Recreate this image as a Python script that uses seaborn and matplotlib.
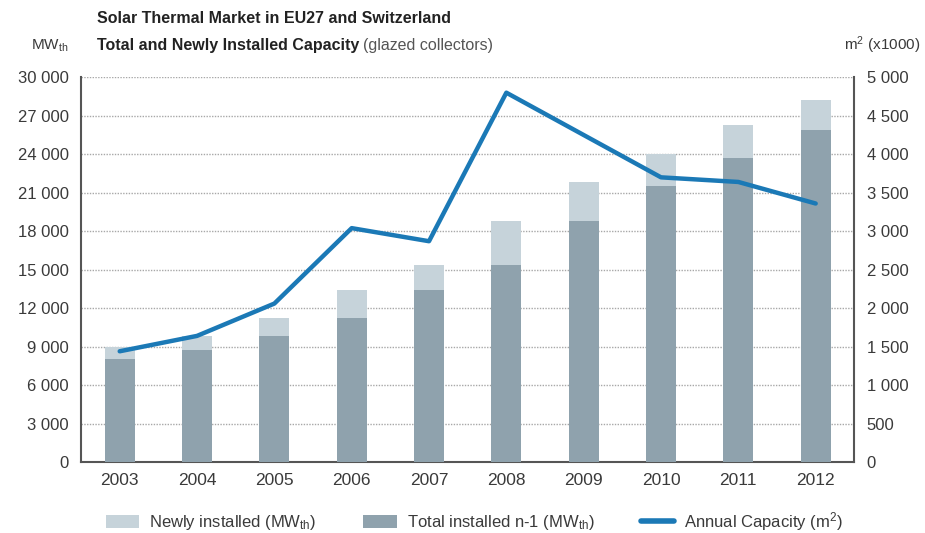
import pandas as pd
import seaborn as sns
import matplotlib.pyplot as plt
import numpy as np
from matplotlib.patches import Patch
from matplotlib.lines import Line2D
from matplotlib.ticker import FuncFormatter

# Data
years = ['2003', '2004', '2005', '2006', '2007', '2008', '2009', '2010', '2011', '2012']
total_prev = [8000, 8750, 9800, 11200, 13400, 15400, 18800, 21500, 23700, 25900]   # MWth, total installed n-1
total_now = [9000, 9800, 11200, 13400, 15400, 18800, 21800, 24000, 26300, 28200]    # MWth, incl. newly installed
annual_m2 = [1440, 1640, 2060, 3040, 2870, 4800, 4250, 3700, 3640, 3360]            # m2 (x1000)

left_ticks = [0, 3000, 6000, 9000, 12000, 15000, 18000, 21000, 24000, 27000, 30000]
right_ticks = [0, 500, 1000, 1500, 2000, 2500, 3000, 3500, 4000, 4500, 5000]

df = pd.DataFrame({'year': years, 'prev': total_prev, 'now': total_now,
                   'pos': range(len(years)), 'annual': annual_m2})

sns.set_style('white')
plt.rcParams['font.family'] = ['Liberation Sans', 'DejaVu Sans']
plt.rcParams['mathtext.fontset'] = 'custom'
plt.rcParams['mathtext.rm'] = 'Liberation Sans'
plt.rcParams['mathtext.it'] = 'Liberation Sans'

light = '#c6d3da'
dark = '#8fa2ad'
blue = '#1b79b6'
txt = '#3a3a3a'

fig = plt.figure(figsize=(9.25, 5.33), dpi=100)
ax = fig.add_axes([0.0876, 0.133, 0.836, 0.722])

# Bars: full height in light, previous total in dark on top
sns.barplot(data=df, x='year', y='now', color=light, width=0.39, saturation=1,
            linewidth=0, ax=ax, zorder=2)
sns.barplot(data=df, x='year', y='prev', color=dark, width=0.39, saturation=1,
            linewidth=0, ax=ax, zorder=3)

ax.set_xlim(-0.5, 9.5)
ax.set_ylim(0, 30000)
ax.set_yticks(left_ticks)
fmt = FuncFormatter(lambda v, p: f'{int(v):,}'.replace(',', ' '))
ax.yaxis.set_major_formatter(fmt)
ax.set_xlabel('')
ax.set_ylabel('')
ax.grid(axis='y', color='#a8a8a8', linestyle=(0, (1, 1)), linewidth=1.0, zorder=0)
ax.set_axisbelow(True)
ax.tick_params(axis='y', length=0, labelsize=12, colors=txt, pad=9)
ax.tick_params(axis='x', length=0, labelsize=12.5, colors=txt, pad=8)
for s in ['left', 'bottom']:
    ax.spines[s].set_color('#555555')
    ax.spines[s].set_linewidth(1.5)
ax.spines['top'].set_visible(False)
ax.spines['right'].set_visible(False)

ax2 = ax.twinx()
sns.lineplot(data=df, x='pos', y='annual', color=blue, linewidth=3.2, ax=ax2, zorder=5)
ax2.set_ylim(0, 5000)
ax2.set_yticks(right_ticks)
ax2.yaxis.set_major_formatter(fmt)
ax2.set_ylabel('')
ax2.set_xlabel('')
ax2.tick_params(axis='y', length=0, labelsize=12, colors=txt, pad=9)
ax2.spines['right'].set_color('#555555')
ax2.spines['right'].set_linewidth(1.5)
for s in ['top', 'left', 'bottom']:
    ax2.spines[s].set_visible(False)
ax2.set_xlim(-0.5, 9.5)

# Titles and axis units
fig.text(0.105, 0.965, 'Solar Thermal Market in EU27 and Switzerland',
         fontsize=11.5, fontweight='bold', color='#222222', va='center')
t = fig.text(0.105, 0.915, 'Total and Newly Installed Capacity',
             fontsize=11.5, fontweight='bold', color='#222222', va='center')
fig.canvas.draw()
bb = t.get_window_extent()
fig.text(bb.x1 / fig.bbox.width + 0.004, 0.915, '(glazed collectors)',
         fontsize=11.5, color='#555555', va='center')
fig.text(0.033, 0.915, r'MW$_\mathrm{th}$', fontsize=11, color=txt, va='center')
fig.text(0.995, 0.915, r'm$^2$ (x1000)', fontsize=11, color=txt, va='center', ha='right')

handles = [Patch(facecolor=light, edgecolor='none'),
           Patch(facecolor=dark, edgecolor='none'),
           Line2D([0], [0], color=blue, linewidth=4, solid_capstyle='round')]
labels = [r'Newly installed (MW$_\mathrm{th}$)', r'Total installed n-1 (MW$_\mathrm{th}$)',
          r'Annual Capacity (m$^2$)']
fig.legend(handles, labels, loc='center', bbox_to_anchor=(0.513, 0.022), ncol=3,
           frameon=False, fontsize=12, handlelength=2.0, handleheight=0.8,
           columnspacing=2.8, handletextpad=0.6, labelcolor=txt)

fig.savefig('out.png', dpi=100)
